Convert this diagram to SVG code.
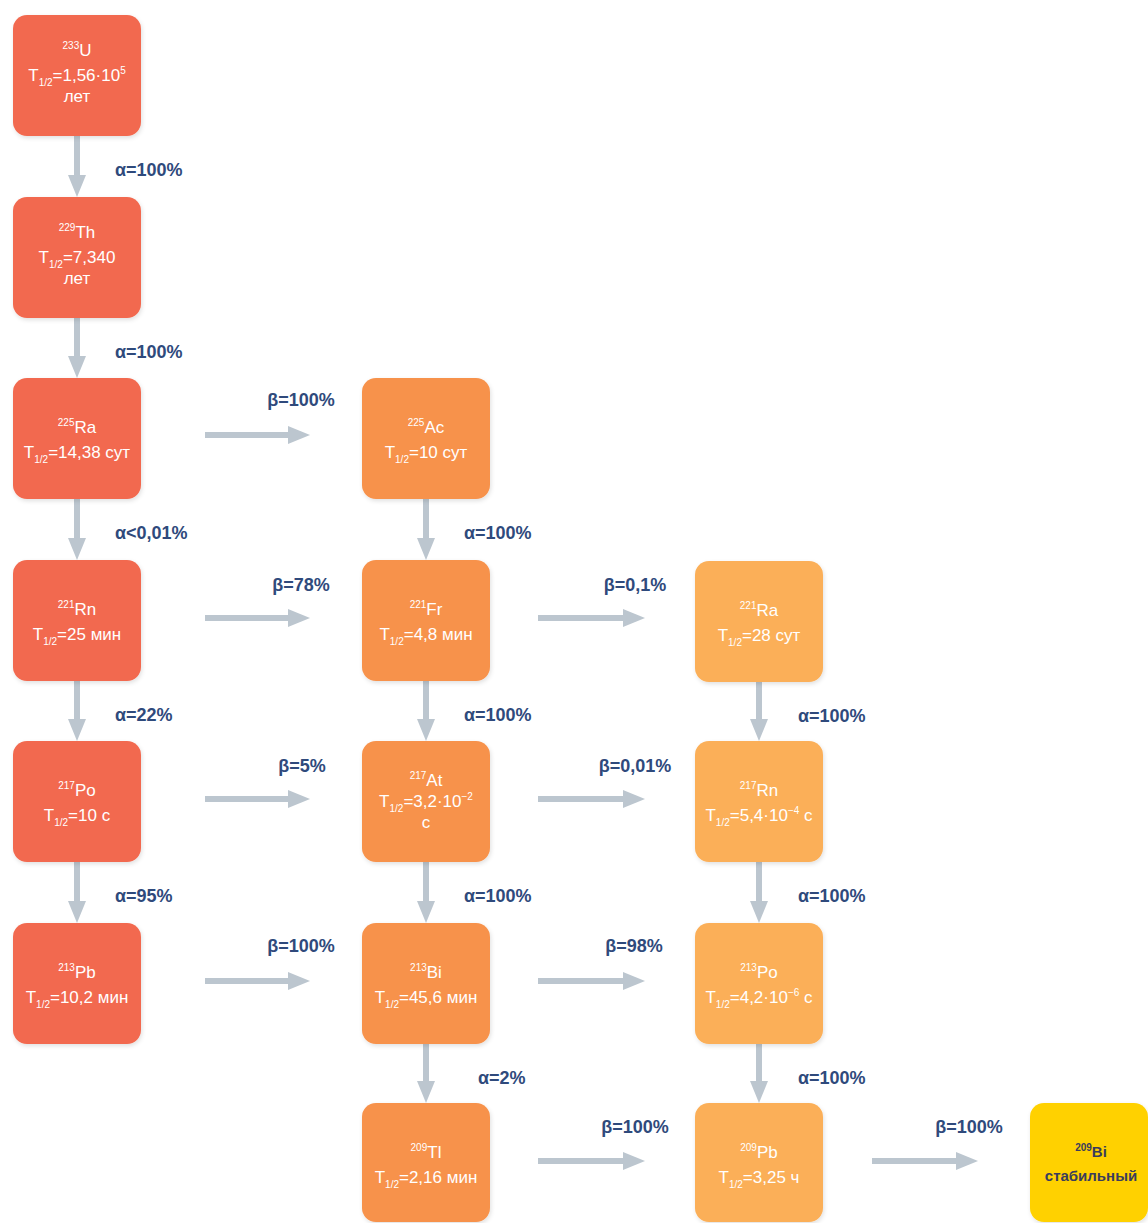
<svg xmlns="http://www.w3.org/2000/svg" width="1148" height="1223" viewBox="0 0 1148 1223">
<defs>
<marker id="ah" markerUnits="userSpaceOnUse" markerWidth="24" markerHeight="20" viewBox="0 0 24 20" refX="10" refY="10" orient="auto">
<path d="M0,1 L22,10 L0,19 Z" fill="#BCC6CF"/>
</marker>
<filter id="sh" x="-10%" y="-10%" width="125%" height="125%">
<feDropShadow dx="1" dy="2" stdDeviation="2" flood-color="#000" flood-opacity="0.12"/>
</filter>
</defs>
<style>
.n1{fill:#F2694F}
.n2{fill:#F7924B}
.n3{fill:#FBAF58}
.n4{fill:#FFD100}
rect{filter:url(#sh)}
.t{font-family:"Liberation Sans",Arial,sans-serif;font-size:17px;fill:#fff;text-anchor:middle}
.t4{font-family:"Liberation Sans",Arial,sans-serif;font-size:15px;font-weight:bold;fill:#3A3C5C;text-anchor:middle}
.s{font-size:10px}
.lbl{font-family:"Liberation Sans",Arial,sans-serif;font-size:18px;font-weight:bold;fill:#2F4A7C}
.c{text-anchor:middle}
.ar{stroke:#BCC6CF;stroke-width:6;fill:none;marker-end:url(#ah)}
</style>
<rect width="1148" height="1223" fill="#fff" style="filter:none"/>

<g id="connectors">
<line class="ar" x1="77" y1="136" x2="77" y2="185"/>
<line class="ar" x1="77" y1="318" x2="77" y2="366"/>
<line class="ar" x1="77" y1="499" x2="77" y2="548"/>
<line class="ar" x1="77" y1="681" x2="77" y2="729"/>
<line class="ar" x1="77" y1="862" x2="77" y2="911"/>
<line class="ar" x1="426" y1="499" x2="426" y2="548"/>
<line class="ar" x1="426" y1="681" x2="426" y2="729"/>
<line class="ar" x1="426" y1="862" x2="426" y2="911"/>
<line class="ar" x1="426" y1="1044" x2="426" y2="1091"/>
<line class="ar" x1="759" y1="681" x2="759" y2="729"/>
<line class="ar" x1="759" y1="862" x2="759" y2="911"/>
<line class="ar" x1="759" y1="1044" x2="759" y2="1091"/>
<line class="ar" x1="205" y1="435" x2="298" y2="435"/>
<line class="ar" x1="205" y1="618" x2="298" y2="618"/>
<line class="ar" x1="205" y1="799" x2="298" y2="799"/>
<line class="ar" x1="205" y1="981" x2="298" y2="981"/>
<line class="ar" x1="538" y1="618" x2="633" y2="618"/>
<line class="ar" x1="538" y1="799" x2="633" y2="799"/>
<line class="ar" x1="538" y1="981" x2="633" y2="981"/>
<line class="ar" x1="538" y1="1161" x2="633" y2="1161"/>
<line class="ar" x1="872" y1="1161" x2="966" y2="1161"/>
<text class="lbl" x="115" y="176">α=100%</text>
<text class="lbl" x="115" y="358">α=100%</text>
<text class="lbl" x="115" y="539">α&lt;0,01%</text>
<text class="lbl" x="115" y="721">α=22%</text>
<text class="lbl" x="115" y="902">α=95%</text>
<text class="lbl" x="464" y="539">α=100%</text>
<text class="lbl" x="464" y="721">α=100%</text>
<text class="lbl" x="464" y="902">α=100%</text>
<text class="lbl" x="478" y="1084">α=2%</text>
<text class="lbl" x="798" y="722">α=100%</text>
<text class="lbl" x="798" y="902">α=100%</text>
<text class="lbl" x="798" y="1084">α=100%</text>
<text class="lbl c" x="301" y="406">β=100%</text>
<text class="lbl c" x="301" y="591">β=78%</text>
<text class="lbl c" x="302" y="772">β=5%</text>
<text class="lbl c" x="301" y="952">β=100%</text>
<text class="lbl c" x="635" y="591">β=0,1%</text>
<text class="lbl c" x="635" y="772">β=0,01%</text>
<text class="lbl c" x="634" y="952">β=98%</text>
<text class="lbl c" x="635" y="1133">β=100%</text>
<text class="lbl c" x="969" y="1133">β=100%</text>
</g>

<g id="U233">
<rect class="n1" x="13" y="15" width="128" height="121" rx="14"/>
<text class="t" x="77" y="56"><tspan class="s" dy="-7">233</tspan><tspan dy="7">U</tspan></text>
<text class="t" x="77" y="81">T<tspan class="s" dy="5">1/2</tspan><tspan dy="-5">=1,56·10</tspan><tspan class="s" dy="-7">5</tspan></text>
<text class="t" x="77" y="102">лет</text>
</g>
<g id="Th229">
<rect class="n1" x="13" y="197" width="128" height="121" rx="14"/>
<text class="t" x="77" y="238"><tspan class="s" dy="-7">229</tspan><tspan dy="7">Th</tspan></text>
<text class="t" x="77" y="263">T<tspan class="s" dy="5">1/2</tspan><tspan dy="-5">=7,340</tspan></text>
<text class="t" x="77" y="284">лет</text>
</g>
<g id="Ra225">
<rect class="n1" x="13" y="378" width="128" height="121" rx="14"/>
<text class="t" x="77" y="433"><tspan class="s" dy="-7">225</tspan><tspan dy="7">Ra</tspan></text>
<text class="t" x="77" y="458">T<tspan class="s" dy="5">1/2</tspan><tspan dy="-5">=14,38 сут</tspan></text>
</g>
<g id="Rn221">
<rect class="n1" x="13" y="560" width="128" height="121" rx="14"/>
<text class="t" x="77" y="615"><tspan class="s" dy="-7">221</tspan><tspan dy="7">Rn</tspan></text>
<text class="t" x="77" y="640">T<tspan class="s" dy="5">1/2</tspan><tspan dy="-5">=25 мин</tspan></text>
</g>
<g id="Po217">
<rect class="n1" x="13" y="741" width="128" height="121" rx="14"/>
<text class="t" x="77" y="796"><tspan class="s" dy="-7">217</tspan><tspan dy="7">Po</tspan></text>
<text class="t" x="77" y="821">T<tspan class="s" dy="5">1/2</tspan><tspan dy="-5">=10 с</tspan></text>
</g>
<g id="Pb213">
<rect class="n1" x="13" y="923" width="128" height="121" rx="14"/>
<text class="t" x="77" y="978"><tspan class="s" dy="-7">213</tspan><tspan dy="7">Pb</tspan></text>
<text class="t" x="77" y="1003">T<tspan class="s" dy="5">1/2</tspan><tspan dy="-5">=10,2 мин</tspan></text>
</g>

<g id="Ac225">
<rect class="n2" x="362" y="378" width="128" height="121" rx="14"/>
<text class="t" x="426" y="433"><tspan class="s" dy="-7">225</tspan><tspan dy="7">Ac</tspan></text>
<text class="t" x="426" y="458">T<tspan class="s" dy="5">1/2</tspan><tspan dy="-5">=10 сут</tspan></text>
</g>
<g id="Fr221">
<rect class="n2" x="362" y="560" width="128" height="121" rx="14"/>
<text class="t" x="426" y="615"><tspan class="s" dy="-7">221</tspan><tspan dy="7">Fr</tspan></text>
<text class="t" x="426" y="640">T<tspan class="s" dy="5">1/2</tspan><tspan dy="-5">=4,8 мин</tspan></text>
</g>
<g id="At217">
<rect class="n2" x="362" y="741" width="128" height="121" rx="14"/>
<text class="t" x="426" y="786"><tspan class="s" dy="-7">217</tspan><tspan dy="7">At</tspan></text>
<text class="t" x="426" y="807">T<tspan class="s" dy="5">1/2</tspan><tspan dy="-5">=3,2·10</tspan><tspan class="s" dy="-7">−2</tspan></text>
<text class="t" x="426" y="828">с</text>
</g>
<g id="Bi213">
<rect class="n2" x="362" y="923" width="128" height="121" rx="14"/>
<text class="t" x="426" y="978"><tspan class="s" dy="-7">213</tspan><tspan dy="7">Bi</tspan></text>
<text class="t" x="426" y="1003">T<tspan class="s" dy="5">1/2</tspan><tspan dy="-5">=45,6 мин</tspan></text>
</g>
<g id="Tl209">
<rect class="n2" x="362" y="1103" width="128" height="119" rx="14"/>
<text class="t" x="426" y="1158"><tspan class="s" dy="-7">209</tspan><tspan dy="7">Tl</tspan></text>
<text class="t" x="426" y="1183">T<tspan class="s" dy="5">1/2</tspan><tspan dy="-5">=2,16 мин</tspan></text>
</g>

<g id="Ra221">
<rect class="n3" x="695" y="561" width="128" height="121" rx="14"/>
<text class="t" x="759" y="616"><tspan class="s" dy="-7">221</tspan><tspan dy="7">Ra</tspan></text>
<text class="t" x="759" y="641">T<tspan class="s" dy="5">1/2</tspan><tspan dy="-5">=28 сут</tspan></text>
</g>
<g id="Rn217">
<rect class="n3" x="695" y="741" width="128" height="121" rx="14"/>
<text class="t" x="759" y="796"><tspan class="s" dy="-7">217</tspan><tspan dy="7">Rn</tspan></text>
<text class="t" x="759" y="821">T<tspan class="s" dy="5">1/2</tspan><tspan dy="-5">=5,4·10</tspan><tspan class="s" dy="-7">−4</tspan><tspan dy="7"> с</tspan></text>
</g>
<g id="Po213">
<rect class="n3" x="695" y="923" width="128" height="121" rx="14"/>
<text class="t" x="759" y="978"><tspan class="s" dy="-7">213</tspan><tspan dy="7">Po</tspan></text>
<text class="t" x="759" y="1003">T<tspan class="s" dy="5">1/2</tspan><tspan dy="-5">=4,2·10</tspan><tspan class="s" dy="-7">−6</tspan><tspan dy="7"> с</tspan></text>
</g>
<g id="Pb209">
<rect class="n3" x="695" y="1103" width="128" height="119" rx="14"/>
<text class="t" x="759" y="1158"><tspan class="s" dy="-7">209</tspan><tspan dy="7">Pb</tspan></text>
<text class="t" x="759" y="1183">T<tspan class="s" dy="5">1/2</tspan><tspan dy="-5">=3,25 ч</tspan></text>
</g>

<g id="Bi209">
<rect class="n4" x="1030" y="1103" width="118" height="119" rx="14"/>
<text class="t4" x="1091" y="1157"><tspan class="s" dy="-6">209</tspan><tspan dy="6">Bi</tspan></text>
<text class="t4" x="1091" y="1181">стабильный</text>
</g>
</svg>
